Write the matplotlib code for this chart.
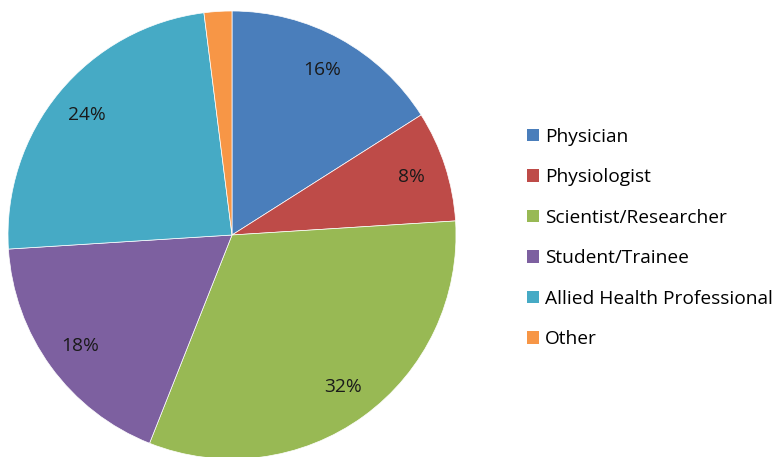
import numpy as np
import matplotlib.pyplot as plt
from matplotlib.patches import Patch

plt.rcParams['font.family'] = ['Open Sans', 'DejaVu Sans']

# data
labels = ['Physician', 'Physiologist', 'Scientist/Researcher',
          'Student/Trainee', 'Allied Health Professional', 'Other']
shares = [16, 8, 32, 18, 24, 2]
colors = ['#4A7EBB', '#BE4B48', '#98B954', '#7D60A0', '#46AAC5', '#F79646']

W, H = 778, 457
fig = plt.figure(figsize=(W/100, H/100), dpi=100)
fig.patch.set_facecolor('white')

# pie centre (232,235) px from top-left, radius 224 px
cx, cy, r = 232, 235, 224
ax = fig.add_axes([(cx-r)/W, (H-cy-r)/H, 2*r/W, 2*r/H])

def pct(p):
    return '%d%%' % round(p) if p >= 5 else ''

wedges, texts, autotexts = ax.pie(shares, colors=colors, startangle=90,
                                  counterclock=False, autopct=pct,
                                  pctdistance=0.84, radius=1,
                                  wedgeprops=dict(linewidth=0.5, edgecolor='white'),
                                  textprops=dict(fontsize=13.8, color='#1a1a1a'))
ax.set_xlim(-1, 1)
ax.set_ylim(-1, 1)
ax.set_aspect('equal')
ax.axis('off')

handles = [Patch(facecolor=c, edgecolor='none') for c in colors]
fig.legend(handles, labels, loc='upper left',
           bbox_to_anchor=(527/W, 1-128/H), frameon=False,
           fontsize=13.8, handlelength=0.62, handleheight=0.62,
           handletextpad=0.3, labelspacing=1.17, borderpad=0, borderaxespad=0)

fig.savefig('out.png', dpi=100)
